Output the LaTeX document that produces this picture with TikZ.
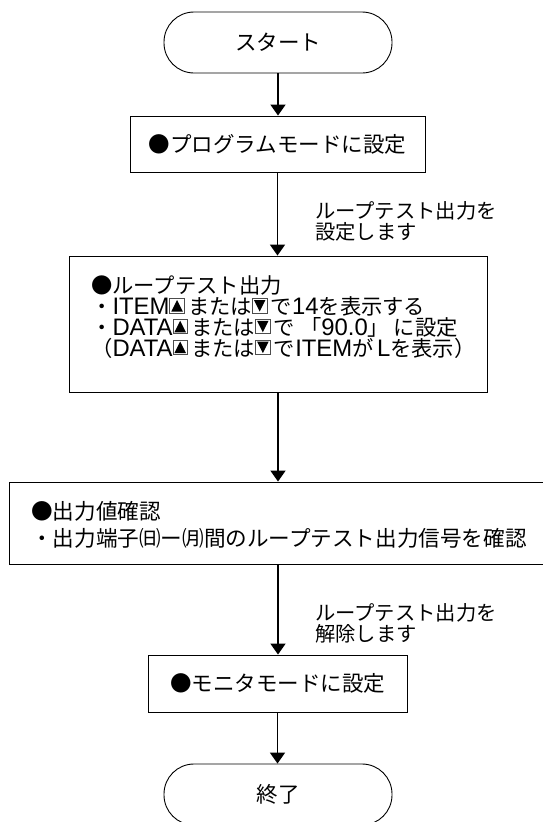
\documentclass[tikz,border=0pt]{standalone}
\usepackage{fontspec}
\setmainfont{Noto Sans CJK JP}
\newfontfamily\latn[Scale=1.12]{Liberation Sans}
\newcommand\lt[1]{{\latn #1}}
\usetikzlibrary{arrows.meta}
\newcommand\kup{\tikz[baseline=-1.5pt,x=1pt,y=1pt]{\draw[line width=0.7pt,black!70] (0,0) rectangle (14.5,14.5); \fill[black] (1.5,1.5)--(13,1.5)--(7.25,13)--cycle;}}
\newcommand\kdn{\tikz[baseline=-1.5pt,x=1pt,y=1pt]{\draw[line width=0.7pt,black!70] (0,0) rectangle (14.5,14.5); \fill[black] (1.5,13)--(13,13)--(7.25,1.5)--cycle;}}
\begin{document}
\begin{tikzpicture}[x=1pt,y=-1pt,
  every node/.style={font=\fontsize{21.5}{21.5}\selectfont},
  term/.style={draw, line width=0.9pt, rounded corners=30pt, minimum width=228pt, minimum height=61pt, inner sep=0pt},
  proc/.style={draw, line width=0.9pt, inner sep=0pt},
  txt/.style={inner sep=0pt, align=left},
  arr/.style={line width=1.8pt, -{Triangle[width=15pt,length=11pt]}}]
\useasboundingbox (0,0) rectangle (543,822);
\node[term] (start) at (278,42.5) {スタート};
\node[proc, minimum width=295pt, minimum height=56pt] (b1) at (277.5,144) {●プログラムモードに設定};
\node[proc, minimum width=418pt, minimum height=136pt] (b2) at (278,324) {};
\node[txt, anchor=west, font=\fontsize{21.3}{20.8}\selectfont] (b2t) at (91,317) {●ループテスト出力\\・\lt{ITEM}\kup\,または\kdn\,で\lt{14}を表示する\\・\lt{DATA}\kup\,または\kdn\,で\ 「\lt{90.0}」\ に設定\\（\lt{DATA}\kup\,または\kdn\,で\lt{ITEM}が\,\lt{L}を表示）};
\node[proc, minimum width=538pt, minimum height=82pt] (b3) at (278,523) {};
\node[txt, anchor=west, font=\fontsize{21.6}{27}\selectfont] (b3t) at (31,525) {●出力値確認\\・出力端子㈰ー㈪間のループテスト出力信号を確認};
\node[proc, minimum width=259pt, minimum height=57pt] (b4) at (277.5,683.5) {●モニタモードに設定};
\node[term] (end) at (278,794.5) {終了};
\node[txt, anchor=north west, font=\fontsize{20.3}{21}\selectfont] (l1) at (315,201) {ループテスト出力を\\設定します};
\node[txt, anchor=north west, font=\fontsize{20.3}{21}\selectfont] (l2) at (315,603) {ループテスト出力を\\解除します};
\draw[arr] (start.south) -- (start.south |- b1.north);
\draw[arr] (b1.south) -- (b1.south |- b2.north);
\draw[arr] (b2.south) -- (b2.south |- b3.north);
\draw[arr] (b3.south) -- (b3.south |- b4.north);
\draw[arr] (b4.south) -- (b4.south |- end.north);
\end{tikzpicture}
\end{document}
